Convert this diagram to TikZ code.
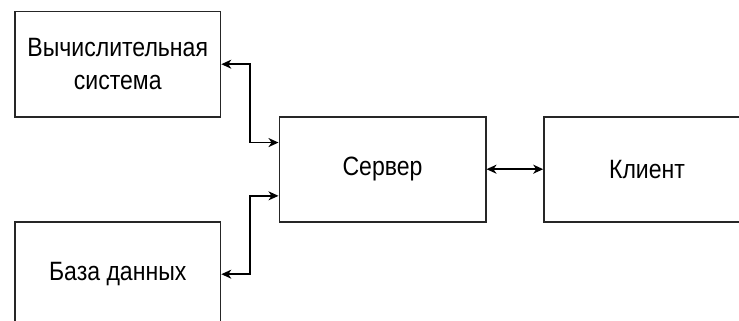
\documentclass[tikz,border=0pt]{standalone}
\usepackage{fontspec}
\setmainfont{Liberation Sans}
\usetikzlibrary{arrows.meta,calc}
\tikzset{
  blk/.style={draw=black!85, line width=1.6pt, rectangle, inner sep=0pt,
    minimum width=205.5pt, minimum height=105pt, align=center,
    font=\fontsize{26.5}{32.6}\selectfont},
  conn/.style={draw=black, line width=1.6pt,
    {Stealth[length=10pt,width=9pt,inset=3pt]}-{Stealth[length=10pt,width=9pt,inset=3pt]}},
}
\newcommand{\nt}[1]{\scalebox{0.87}[1]{#1}}
\begin{document}
\begin{tikzpicture}[x=1pt,y=-1pt]
\useasboundingbox (0,0) rectangle (739,321);
\clip (0,0) rectangle (739,321);
\fill[white] (0,0) rectangle (739,321);
\node[blk] (b1) at (117.75,64.2) {\nt{Вычислительная}\\\nt{система}};
\node[blk] (b2) at (117.75,274.2) {\nt{База данных}};
\node[blk, minimum width=206.4pt] (srv) at (382.5,169.2) {\nt{Сервер}};
\node[blk, minimum width=206pt] (cli) at (647,169.2) {\nt{Клиент}};
\coordinate (mx) at (250,0);
\coordinate (s1) at ($(srv.north west)!0.25!(srv.south west)$);
\coordinate (s2) at ($(srv.north west)!0.75!(srv.south west)$);
\draw[conn] (b1.east) -- (b1.east -| mx) |- (s1);
\draw[conn] (b2.east) -- (b2.east -| mx) |- (s2);
\draw[conn] (srv.east) -- (cli.west);
\end{tikzpicture}
\end{document}
